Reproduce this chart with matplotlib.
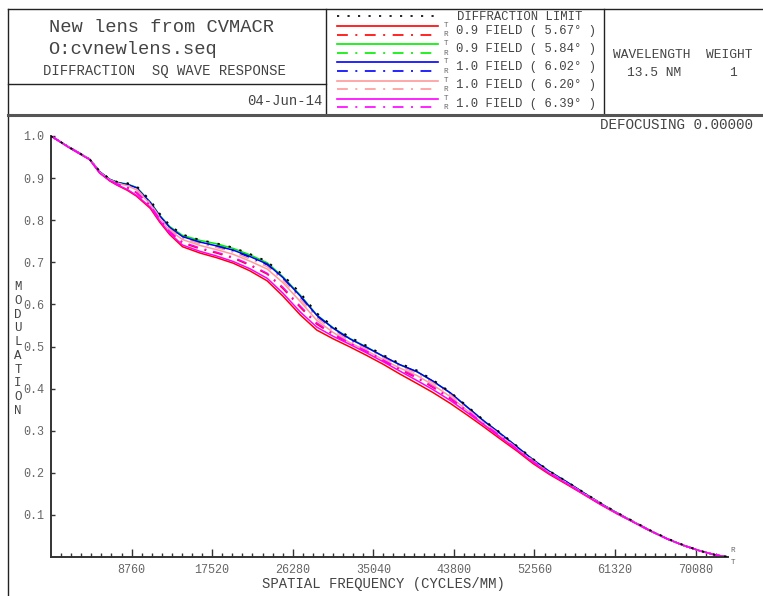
import matplotlib
matplotlib.use("Agg")
import matplotlib.pyplot as plt
from matplotlib.lines import Line2D

plt.rcParams['font.family'] = ['Liberation Mono', 'DejaVu Sans Mono']

# spatial frequency (cycles/mm)
freq = [0, 2000, 4200, 5300, 6400, 7200, 8300, 9300, 10800, 11800, 12900, 14300, 16200, 18000,
        19800, 21600, 23500, 25200, 27100, 28900, 30700, 32500, 34300, 36100, 37900, 39800, 41500,
        43400, 45200, 47000, 48800, 50700, 52400, 54200, 56100, 57800, 59700, 61500, 63300, 65100,
        67000, 68700, 70500, 72200, 73600]

diff_limit = [1.000, 0.973, 0.945, 0.916, 0.898, 0.891, 0.888, 0.881, 0.847, 0.816, 0.788, 0.766, 0.753, 0.745,
              0.735, 0.720, 0.702, 0.670, 0.627, 0.579, 0.547, 0.522, 0.502, 0.480, 0.460, 0.443, 0.421,
              0.392, 0.359, 0.326, 0.296, 0.263, 0.233, 0.204, 0.179, 0.155, 0.129, 0.106, 0.085, 0.064,
              0.044, 0.029, 0.015, 0.005, 0.000]

red_t = [1.000, 0.972, 0.944, 0.912, 0.893, 0.883, 0.871, 0.857, 0.828, 0.796, 0.766, 0.737, 0.722, 0.711,
         0.698, 0.680, 0.656, 0.620, 0.575, 0.539, 0.518, 0.499, 0.479, 0.458, 0.435, 0.412, 0.391,
         0.365, 0.338, 0.310, 0.281, 0.251, 0.222, 0.196, 0.172, 0.150, 0.125, 0.103, 0.083, 0.062,
         0.043, 0.028, 0.015, 0.005, 0.000]
red_r = [1.000, 0.973, 0.945, 0.913, 0.895, 0.886, 0.877, 0.865, 0.834, 0.802, 0.772, 0.746, 0.732, 0.722,
         0.710, 0.693, 0.672, 0.638, 0.593, 0.553, 0.528, 0.506, 0.487, 0.466, 0.445, 0.425, 0.403,
         0.376, 0.346, 0.316, 0.287, 0.255, 0.226, 0.199, 0.175, 0.152, 0.127, 0.104, 0.084, 0.063,
         0.043, 0.028, 0.015, 0.005, 0.000]
green_t = [1.000, 0.973, 0.945, 0.915, 0.897, 0.890, 0.886, 0.878, 0.843, 0.812, 0.785, 0.764, 0.752, 0.744,
           0.733, 0.718, 0.699, 0.666, 0.622, 0.575, 0.544, 0.519, 0.499, 0.477, 0.457, 0.440, 0.418,
           0.390, 0.357, 0.324, 0.294, 0.261, 0.231, 0.203, 0.178, 0.154, 0.128, 0.105, 0.084, 0.063,
           0.043, 0.028, 0.015, 0.005, 0.000]
green_r = [1.000, 0.973, 0.945, 0.915, 0.897, 0.890, 0.885, 0.877, 0.842, 0.811, 0.783, 0.762, 0.750, 0.741,
           0.731, 0.716, 0.697, 0.664, 0.620, 0.573, 0.542, 0.517, 0.497, 0.476, 0.456, 0.439, 0.417,
           0.389, 0.357, 0.324, 0.294, 0.261, 0.231, 0.203, 0.178, 0.154, 0.128, 0.105, 0.084, 0.063,
           0.043, 0.028, 0.015, 0.005, 0.000]
blue_t = [1.000, 0.973, 0.945, 0.915, 0.897, 0.889, 0.885, 0.877, 0.842, 0.811, 0.783, 0.761, 0.748, 0.739,
          0.729, 0.714, 0.696, 0.664, 0.620, 0.574, 0.543, 0.518, 0.498, 0.477, 0.457, 0.440, 0.418,
          0.390, 0.357, 0.324, 0.294, 0.261, 0.231, 0.203, 0.178, 0.154, 0.128, 0.105, 0.084, 0.063,
          0.043, 0.028, 0.015, 0.005, 0.000]
blue_r = [1.000, 0.973, 0.945, 0.915, 0.897, 0.889, 0.884, 0.876, 0.840, 0.809, 0.781, 0.759, 0.746, 0.737,
          0.727, 0.712, 0.694, 0.662, 0.618, 0.572, 0.541, 0.516, 0.497, 0.476, 0.456, 0.439, 0.417,
          0.389, 0.356, 0.323, 0.293, 0.260, 0.230, 0.202, 0.177, 0.154, 0.128, 0.105, 0.084, 0.063,
          0.043, 0.028, 0.015, 0.005, 0.000]
pink_t = [1.000, 0.973, 0.945, 0.914, 0.896, 0.888, 0.882, 0.872, 0.838, 0.805, 0.776, 0.754, 0.740, 0.730,
          0.719, 0.703, 0.684, 0.652, 0.607, 0.562, 0.533, 0.509, 0.490, 0.469, 0.449, 0.431, 0.409,
          0.381, 0.349, 0.317, 0.288, 0.256, 0.227, 0.200, 0.175, 0.152, 0.127, 0.104, 0.084, 0.063,
          0.043, 0.028, 0.015, 0.005, 0.000]
pink_r = [1.000, 0.973, 0.945, 0.915, 0.896, 0.888, 0.883, 0.874, 0.840, 0.808, 0.779, 0.757, 0.744, 0.735,
          0.724, 0.708, 0.690, 0.658, 0.613, 0.568, 0.538, 0.513, 0.494, 0.473, 0.453, 0.436, 0.414,
          0.386, 0.353, 0.320, 0.291, 0.258, 0.229, 0.201, 0.176, 0.153, 0.128, 0.105, 0.084, 0.063,
          0.043, 0.028, 0.015, 0.005, 0.000]
magenta_t = [1.000, 0.972, 0.944, 0.912, 0.894, 0.884, 0.873, 0.859, 0.831, 0.799, 0.769, 0.741, 0.726, 0.715,
             0.702, 0.685, 0.662, 0.627, 0.582, 0.546, 0.524, 0.505, 0.485, 0.464, 0.442, 0.419, 0.398,
             0.372, 0.344, 0.315, 0.285, 0.254, 0.225, 0.198, 0.174, 0.151, 0.126, 0.104, 0.083, 0.063,
             0.043, 0.028, 0.015, 0.005, 0.000]
magenta_r = [1.000, 0.973, 0.945, 0.913, 0.895, 0.886, 0.878, 0.866, 0.835, 0.803, 0.773, 0.748, 0.734, 0.724,
             0.712, 0.695, 0.674, 0.641, 0.596, 0.556, 0.530, 0.508, 0.489, 0.468, 0.447, 0.427, 0.405,
             0.378, 0.348, 0.317, 0.288, 0.256, 0.227, 0.200, 0.175, 0.152, 0.127, 0.104, 0.084, 0.063,
             0.043, 0.028, 0.015, 0.005, 0.000]

field_labels = ['0.9 FIELD ( 5.67\u00b0 )', '0.9 FIELD ( 5.84\u00b0 )', '1.0 FIELD ( 6.02\u00b0 )',
                '1.0 FIELD ( 6.20\u00b0 )', '1.0 FIELD ( 6.39\u00b0 )']
field_colors = ['#ff0000', '#00ee00', '#0000ff', '#ff9a9a', '#ff00ff']
tan_curves = [red_t, green_t, blue_t, pink_t, magenta_t]
rad_curves = [red_r, green_r, blue_r, pink_r, magenta_r]

xticks = [8760, 17520, 26280, 35040, 43800, 52560, 61320, 70080]
yticks = [0.1, 0.2, 0.3, 0.4, 0.5, 0.6, 0.7, 0.8, 0.9, 1.0]

W, H = 763, 596
TXT = '#444444'
GRAY = '#666666'
DASHDOT = (0, (6.5, 4.5, 1.2, 4.5))
DOTTED = (0, (1.3, 5))

fig = plt.figure(figsize=(W / 100, H / 100), dpi=100)


def fx(x):
    return x / W


def fy(y):
    return 1 - y / H


def hline(y, x0, x1, lw=1.0, color='#222222'):
    fig.add_artist(Line2D([fx(x0), fx(x1)], [fy(y), fy(y)], lw=lw, color=color))


def vline(x, y0, y1, lw=1.0, color='#222222'):
    fig.add_artist(Line2D([fx(x), fx(x)], [fy(y0), fy(y1)], lw=lw, color=color))


# header frame
hline(9, 8, 763)
vline(8, 9, 596)
hline(84, 8, 326)
vline(326, 9, 115)
vline(604, 9, 115)
hline(115, 8, 763, lw=2.2, color='#555555')

fig.text(fx(49), fy(28), 'New lens from CVMACR', fontsize=13.5, color=TXT, va='center')
fig.text(fx(48), fy(49), 'O:cvnewlens.seq', fontsize=13.5, color=TXT, va='center')
fig.text(fx(43), fy(71), 'DIFFRACTION  SQ WAVE RESPONSE', fontsize=10, color=TXT, va='center')
fig.text(fx(322), fy(101), '04-Jun-14', fontsize=10, color=TXT, va='center', ha='right')

# legend block
fig.add_artist(Line2D([fx(337), fx(438)], [fy(15.5), fy(15.5)], lw=1.2, color='black', linestyle=DOTTED))
fig.text(fx(457), fy(17), 'DIFFRACTION LIMIT', fontsize=8.8, color=TXT, va='center')
for i, (lab, col) in enumerate(zip(field_labels, field_colors)):
    yt = 26 + 18.2 * i
    yr = 34.5 + 18.2 * i
    fig.add_artist(Line2D([fx(337), fx(438)], [fy(yt), fy(yt)], lw=1.2, color=col))
    fig.add_artist(Line2D([fx(337), fx(438)], [fy(yr), fy(yr)], lw=1.2, color=col, linestyle=DASHDOT))
    fig.text(fx(446), fy(yt - 0.5), 'T', fontsize=5.5, color=GRAY, va='center', ha='center')
    fig.text(fx(446), fy(yr + 0.5), 'R', fontsize=5.5, color=GRAY, va='center', ha='center')
    fig.text(fx(456), fy((yt + yr) / 2 + 0.5), lab, fontsize=8.8, color=TXT, va='center')

fig.text(fx(683), fy(55), 'WAVELENGTH  WEIGHT', fontsize=9.3, color=TXT, va='center', ha='center')
fig.text(fx(654), fy(73), '13.5 NM', fontsize=9.3, color=TXT, va='center', ha='center')
fig.text(fx(733), fy(73), '1', fontsize=9.3, color=TXT, va='center', ha='center')
fig.text(fx(753), fy(125), 'DEFOCUSING 0.00000', fontsize=10.3, color=TXT, va='center', ha='right')

# plot area
ax = fig.add_axes([fx(51), fy(557), (728 - 51) / W, (557 - 136) / H])
for col, ct, cr in zip(field_colors, tan_curves, rad_curves):
    ax.plot(freq, ct, color=col, lw=1.1)
    ax.plot(freq, cr, color=col, lw=1.1, linestyle=DASHDOT)
ax.plot(freq, diff_limit, color='black', lw=1.3, linestyle=DOTTED, zorder=5)

ax.set_xlim(0, 73600)
ax.set_ylim(0, 1.0)
for s in ['top', 'right']:
    ax.spines[s].set_visible(False)
for s in ['left', 'bottom']:
    ax.spines[s].set_linewidth(1.4)
    ax.spines[s].set_color('#333333')

ax.set_xticks(xticks)
ax.set_xticklabels([str(v) for v in xticks])
ax.set_xticks([k * 1095 for k in range(1, 67)], minor=True)
ax.set_yticks(yticks)
ax.set_yticklabels(['%.1f' % v for v in yticks])
ax.tick_params(axis='x', which='major', direction='in', length=5.5, width=1, color='#333333',
               labelsize=8.5, labelcolor=GRAY, pad=5)
ax.tick_params(axis='x', which='minor', direction='in', length=2.8, width=1, color='#333333')
ax.tick_params(axis='y', which='major', direction='in', length=3, width=1, color='#333333',
               labelsize=8.5, labelcolor=GRAY, pad=5)

fig.text(fx(383), fy(584), 'SPATIAL FREQUENCY (CYCLES/MM)', fontsize=10, color=TXT, va='center', ha='center')
fig.text(fx(18), fy(349), '\n'.join('MODULATION'), fontsize=9, color=TXT, va='center', ha='center',
         linespacing=1.2)
fig.text(fx(733), fy(551), 'R', fontsize=5.5, color=GRAY, va='center', ha='center')
fig.text(fx(733), fy(563), 'T', fontsize=5.5, color=GRAY, va='center', ha='center')

fig.savefig('out.png', dpi=100)
